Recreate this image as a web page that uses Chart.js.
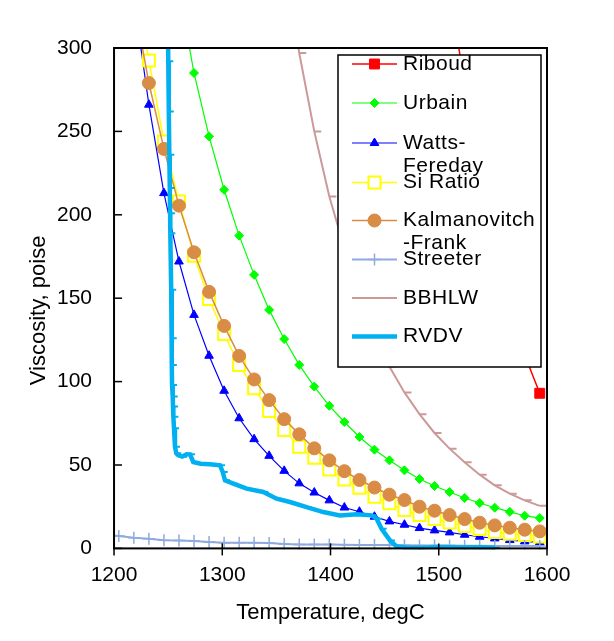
<!DOCTYPE html>
<html>
<head>
<meta charset="utf-8">
<script src="https://cdn.jsdelivr.net/npm/chart.js@4.4.1/dist/chart.umd.min.js"></script>
<style>
  html, body { margin: 0; padding: 0; background: #fff; }
  #wrap { width: 614px; height: 641px; }
</style>
</head>
<body>
<div id="wrap"><canvas id="viscChart"></canvas></div>
<script>
// temperatures (degC) the models were evaluated at
const tempC = [1190.6, 1204.4, 1218.3, 1232.2, 1246.1, 1260.0, 1273.9, 1287.8, 1301.7, 1315.6,
               1329.4, 1343.3, 1357.2, 1371.1, 1385.0, 1398.9, 1412.8, 1426.7, 1440.6, 1454.4,
               1468.3, 1482.2, 1496.1, 1510.0, 1523.9, 1537.8, 1551.7, 1565.6, 1579.4, 1593.3];

// viscosity, poise (null = not plotted)
const riboud = [null, null, null, null, null, null, null, null, null, null,
                null, null, null, null, null, null, null, null, null, null,
                null, null, 400, 335, 278, 224, 180, 145, 116, 93];
const urbain = [null, null, null, null, null, 335, 285, 247, 215, 187.5,
                164, 143, 125.5, 110, 97, 85.5, 75.8, 66.8, 59.2, 52.8,
                46.8, 41.6, 37.4, 33.8, 30.2, 27.2, 24.4, 21.9, 19.6, 18.2];
const wattsFereday = [null, null, 330, 266, 213, 172, 140, 115.5, 94.5, 78,
                      65.5, 55.5, 46.5, 39, 33.5, 28.8, 24.5, 22, 19, 16.2,
                      14.2, 12.2, 10.8, 9.6, 8.2, 7, 6, 5, 4.2, 3.6];
const siRatio = [null, null, 345, 292.5, 244, 208, 175.5, 149.5, 128.5, 110,
                 96, 82.4, 71, 61, 54.3, 47.3, 41.3, 36.4, 31, 27,
                 23, 20, 17.7, 15.5, 13.5, 11.6, 9.8, 8.8, 8, 7.2];
const kalmanovitch = [null, null, 328, 279, 239.5, 205.5, 177.5, 153.8, 133.4, 115.4,
                      101.3, 88.9, 77.5, 68.4, 60, 52.8, 46.3, 41, 36.5, 32.2,
                      29, 25, 22.6, 20, 17.6, 15.4, 13.8, 12.4, 11.2, 10.2];
const streeter = [8.2, 7.4, 6.4, 5.8, 4.9, 4.8, 4.4, 3.8, 3.4, 3.4,
                  3.4, 3.3, 2.6, 2.4, 2.4, 2.3, 2.2, 2.1, 2.0, 2.0,
                  1.9, 1.8, 1.8, 1.7, 1.6, 1.6, 1.5, 1.5, 1.4, 1.4];
const bbhlw = [null, null, null, null, null, null, null, null, null, null,
               null, null, 355, 297, 250, 211, 180, 153, 130, 109,
               93.5, 80.5, 69.2, 59.8, 51.6, 44.2, 37.8, 32.8, 28.8, 25.5];

// measured RVDV curve
const rvdvTemp = [1249.8, 1250.1, 1250.6, 1251.1, 1251.5, 1251.8, 1252.0, 1252.8, 1253.3, 1253.4,
                  1253.6, 1254.2, 1254.5, 1254.8, 1255.4, 1256.3, 1257.5, 1259.4, 1263.0, 1267.0,
                  1270.2, 1273.2, 1280.0, 1288.6, 1297.9, 1300.4, 1302.5, 1310.2, 1322.5, 1337.9,
                  1350.2, 1362.5, 1377.9, 1393.3, 1408.7, 1424.1, 1438.0, 1442.6, 1447.2, 1454.9,
                  1461.0, 1470.0, 1485.6, 1500.0, 1520.0, 1540.0, 1552.0];
const rvdvVisc = [310, 292, 262, 236, 216, 201, 189, 155, 126, 110,
                  98, 91, 85, 79, 72, 61, 57, 55.8, 55, 56.5,
                  56.4, 51.8, 50.8, 50.4, 49.8, 45.8, 40.8, 38.8, 35.8, 33.8,
                  29.8, 27.8, 24.8, 21.8, 19.8, 20.4, 19.8, 17.8, 11.8, 4.8,
                  1.2, 0.6, 0.4, 0.8, 0.5, 0.7, 0.4];

const xTicks = [1200, 1300, 1400, 1500, 1600];
const yTicks = [0, 50, 100, 150, 200, 250, 300];

const legendLines = [['Riboud'], ['Urbain'], ['Watts-', 'Fereday'], ['Si Ratio'],
                     ['Kalmanovitch', '-Frank'], ['Streeter'], ['BBHLW'], ['RVDV']];
const legendRows = [64, 103, 143, 182.5, 220.5, 259.5, 298, 336.5];

const FONT = '"Liberation Sans", Arial, sans-serif';
Chart.defaults.font.family = FONT;
Chart.defaults.font.size = 21;
Chart.defaults.color = '#000';

function pts(xs, ys) {
    return xs.map((x, i) => ({ x: x, y: ys[i] }));
}

function series(label, ys, color, style, radius, lineW, extra) {
    return Object.assign({
        label: label,
        data: pts(tempC, ys),
        borderColor: color,
        borderWidth: lineW,
        pointStyle: style,
        pointRadius: radius,
        pointHoverRadius: radius,
        pointBackgroundColor: color,
        pointBorderColor: color,
        pointBorderWidth: 1,
        spanGaps: false,
        clip: 1
    }, extra || {});
}

const datasets = [
    series('Riboud', riboud, '#FF0000', 'rect', 7, 1.5),
    series('Urbain', urbain, '#00FF00', 'rectRot', 4.5, 1.2),
    series('Watts-Fereday', wattsFereday, '#0000FF', 'triangle', 5, 1.2),
    series('Si Ratio', siRatio, '#FFFF00', 'rect', 8.5, 1.5, { pointBackgroundColor: '#FFFFFF', pointBorderWidth: 2 }),
    series('Kalmanovitch-Frank', kalmanovitch, '#D98C45', 'circle', 6.5, 1.5),
    series('Streeter', streeter, '#8FAADC', 'cross', 6, 2, { pointBorderWidth: 1.5 }),
    series('BBHLW', bbhlw, '#CC9999', 'dash', 7, 2, { pointBorderWidth: 2 }),
    {
        label: 'RVDV',
        data: pts(rvdvTemp, rvdvVisc),
        borderColor: '#00B0F0',
        borderWidth: 4.5,
        pointStyle: 'dash',
        pointRadius: 5,
        pointHoverRadius: 5,
        pointBorderColor: '#00B0F0',
        pointBackgroundColor: '#00B0F0',
        pointBorderWidth: 2,
        clip: 1,
        legendMarker: false
    }
];
// later series sit on top, like the original
datasets.forEach((d, i) => { d.order = datasets.length - i; });

function seg(ctx, x1, y1, x2, y2) {
    ctx.beginPath();
    ctx.moveTo(x1, y1);
    ctx.lineTo(x2, y2);
    ctx.stroke();
}

// box frame, inward ticks and the legend inside the plot
const framePlugin = {
    id: 'framePlugin',
    afterDatasetsDraw(chart) {
        const { ctx, chartArea: a, scales } = chart;
        ctx.save();
        ctx.strokeStyle = '#000';
        ctx.lineWidth = 2;
        ctx.strokeRect(a.left, a.top, a.right - a.left, a.bottom - a.top);
        ctx.lineWidth = 1.5;
        yTicks.forEach(v => {
            const py = scales.y.getPixelForValue(v);
            seg(ctx, a.left, py, a.left + 8, py);
        });
        xTicks.forEach(v => {
            const px = scales.x.getPixelForValue(v);
            seg(ctx, px, a.bottom - 5, px, a.bottom + 7);
        });

        // legend box
        const lx = 338, ly = 55, lw = 203, lh = 312;
        ctx.fillStyle = '#fff';
        ctx.fillRect(lx, ly, lw, lh);
        ctx.strokeStyle = '#000';
        ctx.lineWidth = 1.5;
        ctx.strokeRect(lx, ly, lw, lh);

        ctx.font = '21px ' + FONT;
        ctx.textBaseline = 'middle';
        ctx.textAlign = 'left';
        if ('letterSpacing' in ctx) ctx.letterSpacing = '0.5px';
        chart.data.datasets.forEach((ds, i) => {
            const cy = legendRows[i];
            ctx.strokeStyle = ds.borderColor;
            ctx.lineWidth = ds.borderWidth;
            seg(ctx, 352, cy, 397, cy);
            if (ds.legendMarker !== false) {
                ctx.fillStyle = ds.pointBackgroundColor;
                ctx.strokeStyle = ds.pointBorderColor;
                ctx.lineWidth = ds.pointBorderWidth;
                Chart.helpers.drawPoint(ctx, {
                    pointStyle: ds.pointStyle,
                    radius: ds.pointRadius,
                    borderWidth: ds.pointBorderWidth,
                    rotation: 0
                }, 374.5, cy);
            }
            ctx.fillStyle = '#000';
            legendLines[i].forEach((t, k) => ctx.fillText(t, 403, cy + k * 23));
        });
        ctx.restore();
    }
};

new Chart(document.getElementById('viscChart'), {
    type: 'line',
    data: { datasets: datasets },
    options: {
        responsive: true,
        maintainAspectRatio: false,
        animation: false,
        layout: { padding: { left: 21.6, right: 67, top: 48, bottom: 11 } },
        plugins: { legend: { display: false }, tooltip: { enabled: false } },
        scales: {
            x: {
                type: 'linear',
                min: 1200,
                max: 1600,
                afterBuildTicks: s => { s.ticks = xTicks.map(v => ({ value: v })); },
                grid: { display: false, drawTicks: true, tickLength: 8 },
                border: { display: false },
                ticks: { padding: 6, maxRotation: 0, autoSkip: false, callback: v => String(v) },
                title: { display: true, text: 'Temperature, degC', font: { size: 22 }, padding: { top: 6, bottom: 4 } }
            },
            y: {
                min: 0,
                max: 300,
                afterBuildTicks: s => { s.ticks = yTicks.map(v => ({ value: v })); },
                grid: { display: false, drawTicks: true, tickLength: 17 },
                border: { display: false },
                ticks: { padding: 5, callback: v => String(v) },
                title: { display: true, text: 'Viscosity, poise    ', font: { size: 22 }, padding: { top: 4, bottom: 0 } }
            }
        }
    },
    plugins: [framePlugin]
});
</script>
</body>
</html>
